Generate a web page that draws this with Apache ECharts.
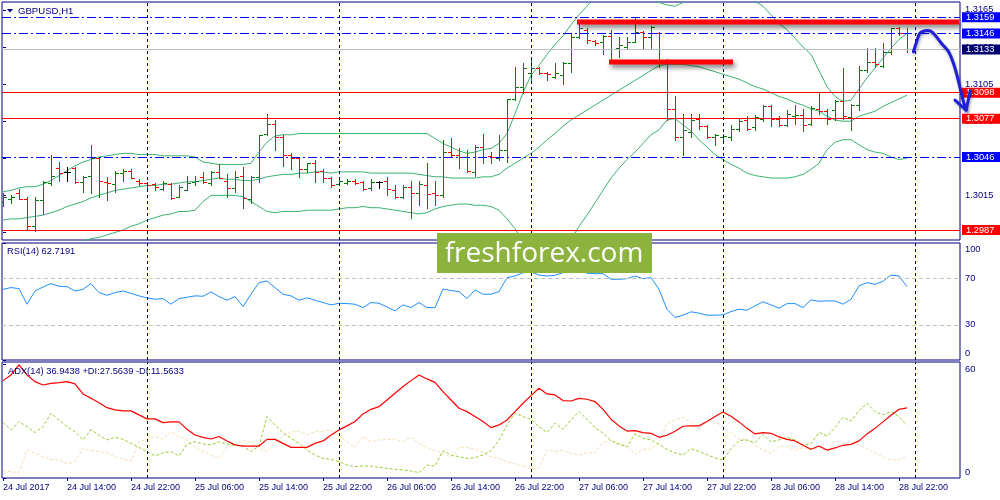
<!DOCTYPE html>
<html>
<head>
<meta charset="utf-8">
<style>
  html, body { margin: 0; padding: 0; background: #fff; }
  #chart { width: 1000px; height: 500px; }
</style>
<script src="https://cdn.jsdelivr.net/npm/echarts@6/dist/echarts.min.js"></script>
</head>
<body>
<div id="chart"></div>
<script>
// GBPUSD H1, 24 Jul 06:00 .. 28 Jul 23:00 (bar index 0..113)
const dateTickIdx = [0, 8, 16, 24, 32, 40, 48, 56, 64, 72, 80, 88, 96, 104, 112];
const dateTicks = ["24 Jul 2017", "24 Jul 14:00", "24 Jul 22:00", "25 Jul 06:00", "25 Jul 14:00",
  "25 Jul 22:00", "26 Jul 06:00", "26 Jul 14:00", "26 Jul 22:00", "27 Jul 06:00", "27 Jul 14:00",
  "27 Jul 22:00", "28 Jul 06:00", "28 Jul 14:00", "28 Jul 22:00"];
const daySeparators = [18, 42, 66, 90, 114];
const priceTicks = [1.3165, 1.3135, 1.3105, 1.3075, 1.3045, 1.3015, 1.2985];
const rsiTicks = [100, 70, 30, 0];
const rsiLevels = [70, 30];
const adxTicks = [60, 0];

const open = [
  1.3010, 1.3012, 1.3017, 1.3012, 1.2990, 1.3011, 1.3025, 1.3037, 1.3034, 1.3037,
  1.3026, 1.3031, 1.3045, 1.3026, 1.3024, 1.3033, 1.3035, 1.3027, 1.3025, 1.3024,
  1.3020, 1.3024, 1.3014, 1.3019, 1.3026, 1.3030, 1.3025, 1.3034, 1.3027, 1.3021,
  1.3031, 1.3012, 1.3030, 1.3065, 1.3073, 1.3062, 1.3048, 1.3045, 1.3036, 1.3041,
  1.3035, 1.3029, 1.3024, 1.3025, 1.3027, 1.3026, 1.3021, 1.3026, 1.3027, 1.3019,
  1.3014, 1.3022, 1.3017, 1.3023, 1.3017, 1.3015, 1.3050, 1.3048, 1.3046, 1.3034,
  1.3054, 1.3047, 1.3045, 1.3052, 1.3093, 1.3103, 1.3114, 1.3118, 1.3114, 1.3111,
  1.3112, 1.3122, 1.3143, 1.3149, 1.3140, 1.3139, 1.3144, 1.3134, 1.3135, 1.3139,
  1.3147, 1.3143, 1.3146, 1.3124, 1.3085, 1.3062, 1.3066, 1.3077, 1.3071, 1.3062,
  1.3062, 1.3062, 1.3069, 1.3076, 1.3070, 1.3077, 1.3087, 1.3077, 1.3072, 1.3079,
  1.3080, 1.3073, 1.3085, 1.3083, 1.3084, 1.3091, 1.3078, 1.3088, 1.3116, 1.3123,
  1.3120, 1.3131, 1.3150, 1.3146
];
const high = [
  1.3017, 1.3015, 1.3020, 1.3014, 1.3014, 1.3027, 1.3048, 1.3042, 1.3038, 1.3038,
  1.3031, 1.3056, 1.3045, 1.3030, 1.3035, 1.3036, 1.3036, 1.3028, 1.3026, 1.3025,
  1.3027, 1.3025, 1.3023, 1.3031, 1.3031, 1.3034, 1.3035, 1.3040, 1.3032, 1.3035,
  1.3038, 1.3031, 1.3064, 1.3081, 1.3076, 1.3064, 1.3049, 1.3045, 1.3041, 1.3044,
  1.3036, 1.3030, 1.3029, 1.3028, 1.3028, 1.3027, 1.3028, 1.3027, 1.3030, 1.3023,
  1.3023, 1.3027, 1.3027, 1.3041, 1.3027, 1.3060, 1.3061, 1.3053, 1.3052, 1.3056,
  1.3065, 1.3050, 1.3064, 1.3093, 1.3119, 1.3122, 1.3127, 1.3119, 1.3115, 1.3122,
  1.3123, 1.3146, 1.3156, 1.3150, 1.3141, 1.3145, 1.3149, 1.3143, 1.3143, 1.3159,
  1.3148, 1.3152, 1.3147, 1.3125, 1.3095, 1.3081, 1.3081, 1.3081, 1.3072, 1.3065,
  1.3065, 1.3072, 1.3077, 1.3079, 1.3080, 1.3088, 1.3088, 1.3079, 1.3084, 1.3088,
  1.3085, 1.3087, 1.3099, 1.3085, 1.3092, 1.3118, 1.3089, 1.3120, 1.3134, 1.3134,
  1.3138, 1.3150, 1.3151, 1.3150
];
const low = [
  1.3006, 1.3009, 1.3012, 1.2987, 1.2986, 1.3000, 1.3023, 1.3027, 1.3027, 1.3025,
  1.3018, 1.3017, 1.3014, 1.3011, 1.3018, 1.3027, 1.3029, 1.3023, 1.3021, 1.3019,
  1.3019, 1.3012, 1.3014, 1.3019, 1.3023, 1.3025, 1.3023, 1.3029, 1.3014, 1.3018,
  1.3005, 1.3009, 1.3026, 1.3064, 1.3052, 1.3039, 1.3036, 1.3030, 1.3034, 1.3026,
  1.3026, 1.3022, 1.3023, 1.3024, 1.3024, 1.3019, 1.3019, 1.3021, 1.3015, 1.3013,
  1.3013, 1.2997, 1.3007, 1.3005, 1.3007, 1.3014, 1.3046, 1.3037, 1.3034, 1.3031,
  1.3041, 1.3041, 1.3044, 1.3042, 1.3092, 1.3098, 1.3108, 1.3113, 1.3108, 1.3110,
  1.3105, 1.3115, 1.3142, 1.3138, 1.3137, 1.3129, 1.3124, 1.3127, 1.3133, 1.3139,
  1.3134, 1.3134, 1.3119, 1.3076, 1.3060, 1.3048, 1.3062, 1.3069, 1.3061, 1.3056,
  1.3060, 1.3060, 1.3067, 1.3068, 1.3068, 1.3075, 1.3071, 1.3071, 1.3071, 1.3073,
  1.3067, 1.3072, 1.3081, 1.3073, 1.3076, 1.3077, 1.3068, 1.3084, 1.3115, 1.3119,
  1.3119, 1.3129, 1.3145, 1.3131
];
const close = [
  1.3014, 1.3014, 1.3012, 1.2990, 1.3011, 1.3026, 1.3031, 1.3033, 1.3034, 1.3026,
  1.3030, 1.3045, 1.3027, 1.3025, 1.3033, 1.3035, 1.3029, 1.3025, 1.3023, 1.3022,
  1.3025, 1.3013, 1.3022, 1.3025, 1.3027, 1.3026, 1.3034, 1.3029, 1.3021, 1.3030,
  1.3013, 1.3030, 1.3064, 1.3073, 1.3062, 1.3048, 1.3045, 1.3036, 1.3041, 1.3034,
  1.3029, 1.3023, 1.3027, 1.3027, 1.3025, 1.3020, 1.3026, 1.3026, 1.3020, 1.3014,
  1.3022, 1.3017, 1.3024, 1.3016, 1.3015, 1.3050, 1.3048, 1.3046, 1.3035, 1.3054,
  1.3046, 1.3046, 1.3052, 1.3093, 1.3103, 1.3118, 1.3118, 1.3114, 1.3113, 1.3114,
  1.3122, 1.3143, 1.3150, 1.3141, 1.3138, 1.3144, 1.3133, 1.3137, 1.3139, 1.3147,
  1.3143, 1.3151, 1.3124, 1.3085, 1.3062, 1.3068, 1.3076, 1.3071, 1.3062, 1.3064,
  1.3063, 1.3069, 1.3075, 1.3069, 1.3078, 1.3087, 1.3077, 1.3072, 1.3081, 1.3080,
  1.3072, 1.3086, 1.3083, 1.3077, 1.3091, 1.3079, 1.3088, 1.3116, 1.3123, 1.3121,
  1.3131, 1.3150, 1.3146, 1.3133
];

const bbUpper = [
  1.3018, 1.3019, 1.3021, 1.3022, 1.3022, 1.3024, 1.3027, 1.3031, 1.3035, 1.3039,
  1.3042, 1.3044, 1.3046, 1.3047, 1.3048, 1.3049, 1.3049, 1.3048, 1.3048, 1.3048,
  1.3047, 1.3047, 1.3047, 1.3047, 1.3046, 1.3042, 1.3041, 1.3040, 1.3040, 1.3040,
  1.3040, 1.3041, 1.3050, 1.3058, 1.3063, 1.3064, 1.3064, 1.3065, 1.3065, 1.3065,
  1.3065, 1.3065, 1.3065, 1.3065, 1.3065, 1.3065, 1.3065, 1.3065, 1.3065, 1.3065,
  1.3065, 1.3065, 1.3065, 1.3065, 1.3061, 1.3057, 1.3054, 1.3051, 1.3049, 1.3050,
  1.3052, 1.3053, 1.3057, 1.3065, 1.3081, 1.3098, 1.3112, 1.3120, 1.3129, 1.3137,
  1.3144, 1.3153, 1.3161, 1.3168, 1.3176, 1.3178, 1.3179, 1.3178, 1.3176, 1.3175,
  1.3174, 1.3173, 1.3171, 1.3169, 1.3168, 1.3171, 1.3175, 1.3178, 1.3179, 1.3180,
  1.3180, 1.3179, 1.3177, 1.3175, 1.3172, 1.3168, 1.3161, 1.3154, 1.3149, 1.3142,
  1.3135, 1.3129, 1.3116, 1.3103, 1.3095, 1.3091, 1.3092, 1.3101, 1.3110, 1.3118,
  1.3126, 1.3134, 1.3141, 1.3146
];
const bbMiddle = [
  1.2995, 1.2996, 1.2996, 1.2997, 1.2998, 1.2999, 1.3001, 1.3003, 1.3006, 1.3008,
  1.3010, 1.3013, 1.3015, 1.3017, 1.3019, 1.3020, 1.3021, 1.3022, 1.3023, 1.3023,
  1.3024, 1.3024, 1.3025, 1.3026, 1.3026, 1.3027, 1.3028, 1.3029, 1.3028, 1.3028,
  1.3027, 1.3027, 1.3028, 1.3030, 1.3031, 1.3032, 1.3032, 1.3033, 1.3033, 1.3034,
  1.3034, 1.3033, 1.3034, 1.3034, 1.3034, 1.3034, 1.3033, 1.3033, 1.3033, 1.3033,
  1.3033, 1.3033, 1.3032, 1.3031, 1.3030, 1.3030, 1.3029, 1.3029, 1.3029, 1.3029,
  1.3030, 1.3030, 1.3032, 1.3037, 1.3041, 1.3045, 1.3049, 1.3054, 1.3060, 1.3065,
  1.3071, 1.3076, 1.3080, 1.3084, 1.3088, 1.3092, 1.3096, 1.3100, 1.3104, 1.3108,
  1.3112, 1.3116, 1.3120, 1.3121, 1.3121, 1.3121, 1.3120, 1.3119, 1.3117, 1.3115,
  1.3113, 1.3111, 1.3109, 1.3106, 1.3103, 1.3101, 1.3098, 1.3095, 1.3093, 1.3090,
  1.3088, 1.3085, 1.3083, 1.3079, 1.3076, 1.3075, 1.3075, 1.3079, 1.3081, 1.3083,
  1.3087, 1.3090, 1.3093, 1.3096
];
const bbLower = [
  1.2972, 1.2973, 1.2971, 1.2972, 1.2974, 1.2974, 1.2975, 1.2975, 1.2977, 1.2977,
  1.2978, 1.2980, 1.2981, 1.2983, 1.2985, 1.2987, 1.2990, 1.2992, 1.2995, 1.2997,
  1.2999, 1.3000, 1.3002, 1.3002, 1.3003, 1.3010, 1.3015, 1.3015, 1.3015, 1.3015,
  1.3014, 1.3010, 1.3006, 1.3002, 1.3001, 1.3002, 1.3002, 1.3002, 1.3003, 1.3003,
  1.3003, 1.3003, 1.3004, 1.3005, 1.3005, 1.3006, 1.3005, 1.3005, 1.3004, 1.3003,
  1.3002, 1.3001, 1.3000, 1.3001, 1.3004, 1.3006, 1.3007, 1.3008, 1.3008, 1.3007,
  1.3007, 1.3006, 1.3003, 1.2996, 1.2988, 1.2978, 1.2975, 1.2974, 1.2973, 1.2974,
  1.2976, 1.2979, 1.2990, 1.2999, 1.3009, 1.3019, 1.3029, 1.3037, 1.3044, 1.3050,
  1.3057, 1.3064, 1.3068, 1.3076, 1.3077, 1.3072, 1.3067, 1.3060, 1.3054, 1.3048,
  1.3044, 1.3040, 1.3037, 1.3033, 1.3031, 1.3030, 1.3029, 1.3029, 1.3029, 1.3030,
  1.3032, 1.3036, 1.3041, 1.3052, 1.3058, 1.3060, 1.3060, 1.3056, 1.3052, 1.3050,
  1.3049, 1.3046, 1.3044, 1.3045
];

const rsi = [
  60.4, 61.9, 61.0, 47.7, 59.0, 62.4, 65.3, 63.0, 62.7, 59.0,
  60.4, 65.3, 57.6, 55.3, 57.6, 59.0, 57.0, 54.8, 53.1, 51.9,
  52.5, 47.7, 52.5, 53.6, 54.8, 54.5, 58.2, 54.2, 51.1, 54.2,
  45.7, 56.2, 66.1, 67.5, 61.9, 56.2, 54.8, 51.1, 53.1, 51.1,
  49.1, 47.1, 48.5, 48.2, 47.7, 44.8, 49.1, 48.5, 45.4, 42.0,
  47.1, 44.8, 49.1, 44.8, 44.8, 60.7, 59.3, 58.5, 52.5, 59.9,
  56.2, 56.2, 58.5, 70.4, 71.8, 74.6, 75.2, 72.6, 71.8, 72.4,
  74.6, 77.5, 78.0, 74.1, 73.8, 73.8, 69.0, 69.0, 69.5, 71.8,
  69.5, 70.4, 60.4, 43.4, 36.3, 38.3, 41.2, 40.0, 38.3, 38.3,
  38.6, 41.4, 43.4, 42.6, 46.3, 49.7, 47.1, 44.3, 48.2, 48.2,
  44.8, 51.4, 50.2, 50.5, 50.5, 47.7, 51.9, 63.3, 66.1, 64.7,
  67.3, 72.6, 71.8, 62.7
];
const adx = [
  51.2, 54.2, 59.5, 54.2, 50.7, 48.9, 49.8, 50.2, 50.7, 49.5,
  44.2, 41.9, 39.6, 37.0, 35.8, 35.3, 35.3, 33.2, 31.1, 31.1,
  29.1, 29.5, 29.5, 25.6, 22.6, 21.4, 20.5, 21.8, 19.5, 17.4,
  16.8, 16.8, 16.8, 20.3, 20.3, 18.2, 16.1, 16.1, 16.1, 18.2,
  19.5, 22.6, 25.3, 27.4, 29.7, 33.7, 36.1, 37.5, 41.0, 44.6,
  48.1, 51.2, 54.2, 52.1, 50.3, 45.4, 41.0, 36.7, 34.9, 32.3,
  29.7, 26.5, 27.9, 30.5, 34.9, 39.3, 43.3, 47.2, 44.2, 43.7,
  40.7, 40.5, 41.9, 41.4, 40.2, 36.1, 30.9, 27.4, 24.7, 24.9,
  23.9, 23.5, 21.4, 22.5, 24.6, 27.2, 27.4, 27.4, 29.7, 32.3,
  34.7, 32.5, 29.5, 26.1, 23.2, 23.9, 23.5, 21.6, 20.3, 19.5,
  17.2, 15.1, 16.8, 14.7, 15.8, 17.2, 17.7, 19.5, 23.2, 26.1,
  29.5, 33.0, 36.1, 36.9
];
const plusDi = [
  29.1, 25.3, 29.7, 27.0, 23.9, 27.0, 34.0, 30.5, 27.0, 24.4,
  20.0, 25.3, 22.6, 20.0, 21.4, 20.4, 18.2, 16.1, 13.9, 11.6,
  13.3, 13.9, 11.6, 17.7, 19.1, 17.9, 17.4, 19.1, 17.9, 17.2,
  16.8, 13.9, 16.8, 32.3, 27.9, 23.9, 20.9, 18.2, 14.7, 12.1,
  10.3, 9.8, 8.6, 6.8, 6.0, 6.3, 6.3, 5.6, 5.1, 4.6,
  4.2, 3.7, 2.8, 6.8, 6.3, 14.4, 12.1, 11.2, 10.3, 10.7,
  12.1, 14.4, 20.0, 27.9, 34.0, 32.3, 30.9, 27.0, 23.9, 28.8,
  25.6, 30.5, 34.9, 30.9, 26.5, 23.5, 19.7, 17.7, 16.3, 23.2,
  20.9, 20.0, 17.7, 15.1, 13.2, 12.1, 15.4, 14.0, 12.3, 10.5,
  9.5, 15.4, 19.7, 20.0, 18.6, 23.0, 19.0, 20.0, 21.4, 20.0,
  17.4, 17.9, 24.0, 22.1, 26.5, 31.9, 30.0, 35.4, 39.3, 34.9,
  33.2, 34.9, 32.3, 27.6
];
const minusDi = [
  3.9, 3.3, 2.8, 14.7, 13.0, 11.2, 9.8, 9.5, 7.4, 8.6,
  15.6, 14.4, 13.9, 13.3, 11.2, 9.8, 9.0, 19.1, 20.4, 21.8,
  20.4, 24.4, 21.8, 20.0, 16.1, 13.9, 12.1, 10.3, 16.1, 17.7,
  20.0, 18.6, 15.6, 13.9, 18.6, 21.8, 24.4, 24.4, 22.6, 24.4,
  24.4, 25.3, 21.8, 19.1, 16.1, 21.8, 19.1, 20.0, 20.4, 20.4,
  19.1, 21.4, 18.2, 16.1, 14.4, 13.3, 10.7, 16.1, 16.1, 15.1,
  13.3, 11.2, 10.3, 8.6, 7.4, 6.3, 5.1, 5.1, 14.7, 13.9,
  14.7, 13.0, 12.1, 13.3, 13.3, 18.8, 19.7, 18.2, 16.8, 12.6,
  15.1, 15.1, 18.6, 28.4, 30.5, 31.9, 29.1, 25.3, 30.5, 29.7,
  27.0, 23.9, 20.4, 20.0, 17.4, 14.7, 13.0, 16.5, 16.8, 14.7,
  16.1, 14.7, 16.1, 13.9, 19.7, 18.2, 18.6, 17.4, 15.6, 13.0,
  11.2, 9.5, 9.5, 11.6
];

// horizontal levels and their kind
const levelPrices = [1.3159, 1.3146, 1.3133, 1.3098, 1.3077, 1.3046, 1.2987];
const levelKinds = ["blue", "blue", "bid", "red", "red", "blue", "red"];
// thick red zones [bar index, price]
const zoneTop = [[71.75, 1.31552], [119.5, 1.31552]];
const zoneMid = [[75.75, 1.31229], [91.25, 1.31229]];
// hand drawn forecast arrow (bar index, price)
const arrowX = [113.8, 114.2, 114.6, 115.25, 115.9, 116.5, 117.3, 118.2, 118.8, 119.4, 120.0, 120.4];
const arrowY = [1.31312, 1.31393, 1.31461, 1.31482, 1.31480, 1.31447, 1.31380, 1.31312, 1.31218, 1.31083, 1.30921, 1.30840];
const arrowHeadX = [119.0, 120.4, 120.9];
const arrowHeadY = [1.30921, 1.30840, 1.30994];

const NAVY = "#000080";
const FONT = "Liberation Sans";
const UP = "#008000", DOWN = "#ff0000", FLAT = "#000000";
const ARROW = "#1f1fd8";

const pair = arr => arr.map((v, i) => [i, v]);
const zip = (xs, ys) => xs.map((x, i) => [x, ys[i]]);

const chart = echarts.init(document.getElementById("chart"));

function renderOhlc(params, api) {
  const i = api.value(0);
  const o = api.value(1), c = api.value(2);
  const pO = api.coord([i, o]);
  const pC = api.coord([i, c]);
  const pL = api.coord([i, api.value(3)]);
  const pH = api.coord([i, api.value(4)]);
  const x = Math.round(pO[0]) + 0.5;
  const yo = Math.round(pO[1]) + 0.5, yc = Math.round(pC[1]) + 0.5;
  const col = c > o ? UP : (c < o ? DOWN : FLAT);
  const st = { stroke: col, lineWidth: 1 };
  return {
    type: "group",
    children: [
      { type: "line", shape: { x1: x, y1: Math.round(pH[1]), x2: x, y2: Math.round(pL[1]) + 1 }, style: st },
      { type: "line", shape: { x1: x - 3.5, y1: yo, x2: x, y2: yo }, style: st },
      { type: "line", shape: { x1: x, y1: yc, x2: x + 3.5, y2: yc }, style: st }
    ]
  };
}

// the forecast arrow runs past the plot edge, so draw it unclipped
function renderArrow(params, api) {
  const body = arrowX.map((x, k) => api.coord([x, arrowY[k]]));
  const head = arrowHeadX.map((x, k) => api.coord([x, arrowHeadY[k]]));
  const st = {
    stroke: ARROW, fill: null, lineWidth: 3, lineCap: "round", lineJoin: "round",
    shadowColor: "rgba(0,0,60,0.35)", shadowBlur: 3, shadowOffsetX: 1, shadowOffsetY: 2
  };
  return {
    type: "group",
    children: [
      { type: "polyline", shape: { points: body, smooth: 0.3 }, style: st },
      { type: "polyline", shape: { points: head }, style: st }
    ]
  };
}

function xAxisFor(gridIndex, withLabels) {
  return {
    type: "value", gridIndex: gridIndex, min: -0.125, max: 119.625,
    splitLine: { show: false },
    axisLine: { show: false },
    axisTick: withLabels
      ? { show: true, inside: false, length: 3, customValues: dateTickIdx, lineStyle: { color: NAVY } }
      : { show: false },
    axisLabel: withLabels
      ? {
          show: true, customValues: dateTickIdx, align: "left", margin: 5,
          formatter: v => dateTicks[dateTickIdx.indexOf(v)],
          fontSize: 9, fontFamily: FONT, color: NAVY
        }
      : { show: false }
  };
}

function yAxisFor(gridIndex, min, max, ticks, formatter, rich) {
  return {
    type: "value", gridIndex: gridIndex, position: "right", min: min, max: max,
    splitLine: { show: false },
    axisLine: { show: false },
    axisTick: { show: true, inside: false, length: 3, customValues: ticks, lineStyle: { color: NAVY } },
    axisLabel: {
      customValues: ticks, margin: 5, formatter: formatter, rich: rich,
      fontSize: 9.3, fontFamily: FONT, color: NAVY
    }
  };
}

const labelFont = { fontSize: 9.3, fontFamily: FONT, color: NAVY };
const separatorLines = {
  silent: true, symbol: "none", animation: false, precision: 5,
  label: { show: false },
  lineStyle: { color: NAVY, type: [3, 3], width: 1 },
  data: daySeparators.map(v => ({ xAxis: v }))
};

// one markLine group per level kind, each with its own line and tag colours
function levelGroup(kind, stroke, dash, tag) {
  return {
    silent: true, symbol: "none", animation: false, precision: 6,
    lineStyle: { color: stroke, width: 1, type: dash },
    label: {
      show: true, position: "end", distance: 2,
      formatter: p => p.value.toFixed(4),
      color: "#ffffff", backgroundColor: tag,
      padding: [1, 7, 0, 4], lineHeight: 9, fontSize: 9.3, fontFamily: FONT
    },
    data: levelPrices.filter((p, k) => levelKinds[k] === kind).map(p => ({ yAxis: p }))
  };
}

const gridBase = { left: 2, width: 958, show: true, borderColor: NAVY, borderWidth: 1, outerBoundsMode: "none", containLabel: false };

chart.setOption({
  animation: false,
  backgroundColor: "#ffffff",
  grid: [
    Object.assign({ top: 2, height: 238 }, gridBase),
    Object.assign({ top: 243, height: 117 }, gridBase),
    Object.assign({ top: 362, height: 116 }, gridBase)
  ],
  xAxis: [xAxisFor(0, false), xAxisFor(1, false), xAxisFor(2, true)],
  yAxis: [
    yAxisFor(0, 1.29789, 1.31714, priceTicks, v => v.toFixed(4)),
    yAxisFor(1, 0, 100, rsiTicks,
      v => (v === 100 ? "{top|100}" : (v === 0 ? "{bot|0}" : String(v))),
      { top: Object.assign({ padding: [12, 0, 0, 0] }, labelFont), bot: Object.assign({ padding: [0, 0, 14, 0] }, labelFont) }),
    yAxisFor(2, 0, 61, adxTicks,
      v => (v === 60 ? "{top|60}" : "{bot|0}"),
      { top: Object.assign({ padding: [11, 0, 0, 0] }, labelFont), bot: Object.assign({ padding: [0, 0, 11, 0] }, labelFont) })
  ],
  series: [
    {
      name: "BB middle", type: "line", xAxisIndex: 0, yAxisIndex: 0, data: pair(bbMiddle),
      symbol: "none", z: 2, lineStyle: { color: "#3cb371", width: 1 },
      markLine: levelGroup("red", "#ff0000", "solid", "#ff0000")
    },
    {
      name: "BB upper", type: "line", xAxisIndex: 0, yAxisIndex: 0, data: pair(bbUpper),
      symbol: "none", z: 2, lineStyle: { color: "#3cb371", width: 1 },
      markLine: levelGroup("blue", "#0000ff", [9, 3, 2, 3], "#0000ff")
    },
    {
      name: "BB lower", type: "line", xAxisIndex: 0, yAxisIndex: 0, data: pair(bbLower),
      symbol: "none", z: 2, lineStyle: { color: "#3cb371", width: 1 },
      markLine: levelGroup("bid", "#c0c0c0", "solid", "#000070")
    },
    {
      name: "GBPUSD", type: "custom", xAxisIndex: 0, yAxisIndex: 0, z: 3, clip: true,
      renderItem: renderOhlc,
      data: open.map((o, i) => [i, o, close[i], low[i], high[i]]),
      markLine: separatorLines
    },
    {
      name: "zone top", type: "line", xAxisIndex: 0, yAxisIndex: 0, data: zoneTop, z: 5,
      symbol: "none", clip: false,
      lineStyle: { color: "#ff0000", width: 5, shadowColor: "rgba(0,0,0,0.55)", shadowBlur: 5, shadowOffsetX: 2, shadowOffsetY: 3 }
    },
    {
      name: "zone mid", type: "line", xAxisIndex: 0, yAxisIndex: 0, data: zoneMid, z: 5,
      symbol: "none", clip: false,
      lineStyle: { color: "#ff0000", width: 5, shadowColor: "rgba(0,0,0,0.55)", shadowBlur: 5, shadowOffsetX: 2, shadowOffsetY: 3 }
    },
    {
      name: "forecast", type: "custom", xAxisIndex: 0, yAxisIndex: 0, z: 20, clip: false,
      renderItem: renderArrow,
      data: [zip(arrowX, arrowY)[0]]
    },
    {
      name: "RSI(14)", type: "line", xAxisIndex: 1, yAxisIndex: 1, data: pair(rsi),
      symbol: "none", z: 3, lineStyle: { color: "#1e90ff", width: 1 },
      markLine: {
        silent: true, symbol: "none", animation: false, label: { show: false },
        lineStyle: { color: "#c0c0c0", type: [4, 3], width: 1 },
        data: rsiLevels.map(v => ({ yAxis: v }))
      }
    },
    {
      name: "-DI", type: "line", xAxisIndex: 2, yAxisIndex: 2, data: pair(minusDi),
      symbol: "none", z: 2, lineStyle: { color: "#f5deb3", width: 1, type: [3, 2] },
      markLine: separatorLines
    },
    {
      name: "+DI", type: "line", xAxisIndex: 2, yAxisIndex: 2, data: pair(plusDi),
      symbol: "none", z: 3, lineStyle: { color: "#9acd32", width: 1, type: [3, 2] }
    },
    {
      name: "ADX(14)", type: "line", xAxisIndex: 2, yAxisIndex: 2, data: pair(adx),
      symbol: "none", z: 4, lineStyle: { color: "#ff0000", width: 1.2 }
    },
    {
      name: "rsi separators", type: "line", xAxisIndex: 1, yAxisIndex: 1, data: pair(rsi),
      symbol: "none", z: 1, lineStyle: { opacity: 0 },
      markLine: separatorLines
    }
  ],
  graphic: [
    {
      type: "polygon", z: 50, silent: true,
      shape: { points: [[7, 9], [13, 9], [10, 12.5]] },
      style: { fill: NAVY }
    },
    {
      type: "text", z: 50, silent: true, x: 18, y: 11,
      style: { text: "GBPUSD,H1", fill: NAVY, font: '9.6px "Liberation Sans"', verticalAlign: "middle", textVerticalAlign: "middle" }
    },
    {
      type: "text", z: 50, silent: true, x: 7, y: 251.5,
      style: { text: "RSI(14) 62.7191", fill: NAVY, font: '9.3px "Liberation Sans"', verticalAlign: "middle", textVerticalAlign: "middle" }
    },
    {
      type: "text", z: 50, silent: true, x: 8, y: 371,
      style: { text: "ADX(14) 36.9438 +DI:27.5639 -DI:11.5633", fill: NAVY, font: '9.3px "Liberation Sans"', verticalAlign: "middle", textVerticalAlign: "middle" }
    },
    {
      type: "rect", z: 100, silent: true,
      shape: { x: 437, y: 233, width: 215, height: 40 },
      style: { fill: "#8db33f" }
    },
    {
      type: "text", z: 101, silent: true, x: 544, y: 254,
      style: {
        text: "freshforex.com", fill: "#ffffff", font: '28px "Open Sans"',
        align: "center", textAlign: "center", verticalAlign: "middle", textVerticalAlign: "middle"
      }
    }
  ]
});
</script>
</body>
</html>
